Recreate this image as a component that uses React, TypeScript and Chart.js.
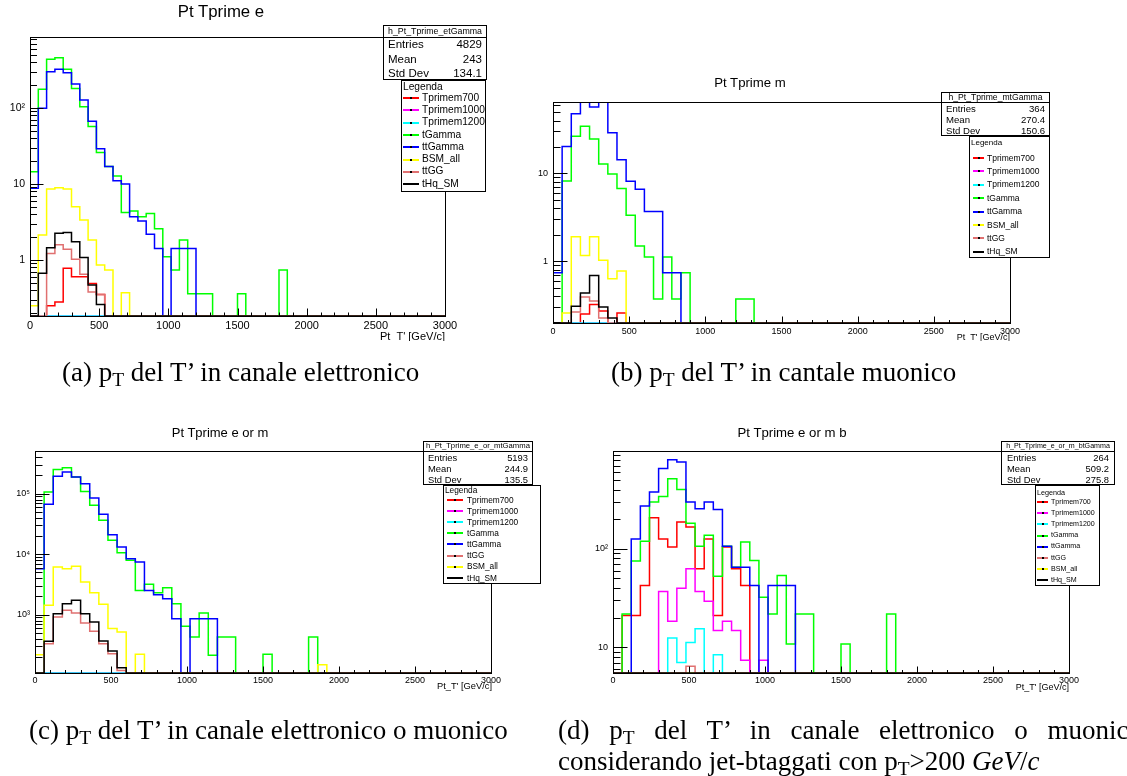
import React, { useEffect, useRef } from "react";
import { Chart, registerables } from "chart.js";

Chart.register(...registerables);

/* ====================== DATA ====================== */
// histograms: 50 bins of 60 GeV from 0 to 3000; bins after the last listed value are empty
const BIN_WIDTH = 60;
const N_BINS = 50;
const X_TICK_VALUES = [0, 500, 1000, 1500, 2000, 2500, 3000];

const SERIES_NAMES = ["Tprimem700", "Tprimem1000", "Tprimem1200", "tGamma", "ttGamma", "BSM_all", "ttGG", "tHq_SM"];
const LEGEND_ORDER_AB = ["Tprimem700", "Tprimem1000", "Tprimem1200", "tGamma", "ttGamma", "BSM_all", "ttGG", "tHq_SM"];
const LEGEND_ORDER_CD = ["Tprimem700", "Tprimem1000", "Tprimem1200", "tGamma", "ttGamma", "ttGG", "BSM_all", "tHq_SM"];
const STAT_LABELS = ["Entries", "Mean", "Std Dev"];
const X_AXIS_TITLE = "Pt_T' [GeV/c]";

// (a) electron channel
const A_TITLE = "Pt Tprime e";
const A_HIST_NAME = "h_Pt_Tprime_etGamma";
const A_STATS = ["4829", "243", "134.1"];
const A_Y_RANGE = [0.183, 860];
const A_Y_TICKS = [1, 10, 100];
const A_Y_LABELS = ["1", "10", "10²"];
const A_TPRIME700 = [0, 0, 0.25, 0.28, 0.78, 0.6, 0.6, 0.49, 0.35];
const A_TPRIME1000: number[] = [];
const A_TPRIME1200: number[] = [];
const A_TGAMMA = [14.5, 176, 437, 459, 323, 181, 104, 57, 26, 17, 12.7, 4.2, 4.4, 3.7, 4.1, 2.58, 1.1, 0.74, 1.83, 0.36, 0.36, 0.36, 0, 0, 0, 0.36, 0, 0, 0, 0, 0.74];
const A_TTGAMMA = [8.8, 99, 300, 323, 292, 207, 127, 67, 29, 17, 11, 10, 3.7, 3.26, 2.18, 1.42, 0, 1.42, 1.42, 1.42];
const A_BSM = [0.25, 2.13, 8.6, 8.95, 8.6, 5.0, 3.36, 1.83, 0.86, 0.74, 0, 0.37];
const A_TTGG = [0, 0, 1.22, 1.58, 1.38, 1.02, 0.65, 0.38, 0.35];
const A_THQ = [0, 0.67, 1.45, 2.24, 2.3, 1.74, 1.08, 0.47, 0.26];

// (b) muon channel
const B_TITLE = "Pt Tprime m";
const B_HIST_NAME = "h_Pt_Tprime_mtGamma";
const B_STATS = ["364", "270.4", "150.6"];
const B_Y_RANGE = [0.197, 65];
const B_Y_TICKS = [1, 10];
const B_Y_LABELS = ["1", "10"];
const B_TPRIME700 = [0, 0, 0, 0.25, 0.32, 0.27, 0, 0.256];
const B_TPRIME1000: number[] = [];
const B_TPRIME1200: number[] = [];
const B_TGAMMA = [0, 8.2, 26.5, 34.5, 24.7, 12.8, 9.8, 6.7, 3.33, 1.49, 1.11, 0.37, 1.11, 0.37, 0.735, 0, 0, 0, 0, 0, 0.37, 0.37];
const B_TTGAMMA = [0.735, 20.2, 47.8, 65, 57, 65, 29, 14.3, 8.1, 6.6, 3.67, 3.67, 0.735, 0.735];
const B_BSM = [0, 0.256, 1.9, 1.16, 1.9, 1.02, 0.63, 0.77];
const B_TTGG = [0, 0, 0.263, 0.39, 0.35, 0.224];
const B_THQ = [0, 0, 0.305, 0.434, 0.685, 0.3, 0.224];

// (c) electron or muon channel
const C_TITLE = "Pt Tprime e or m";
const C_HIST_NAME = "h_Pt_Tprime_e_or_mtGamma";
const C_STATS = ["5193", "244.9", "135.5"];
const C_Y_RANGE = [108.6, 507000];
const C_Y_TICKS = [1000, 10000, 100000];
const C_Y_LABELS = ["10³", "10⁴", "10⁵"];
const C_TPRIME700: number[] = [];
const C_TPRIME1000: number[] = [];
const C_TPRIME1200: number[] = [];
const C_TGAMMA = [0, 107000, 250000, 269000, 188000, 109000, 64100, 36200, 16900, 10600, 7910, 2520, 3170, 2310, 2790, 1520, 641, 427, 1070, 213, 427, 427, 0, 0, 0, 221, 0, 0, 0, 0, 427];
const C_TTGAMMA = [5750, 66700, 194000, 228000, 188000, 146000, 84700, 45500, 21000, 13100, 8430, 7420, 2520, 2140, 1840, 859, 0, 859, 859, 859];
const C_BSM = [218, 1430, 6140, 5750, 6300, 3470, 2310, 1480, 588, 517, 0, 221, 0, 0, 0, 0, 0, 0, 0, 0, 0, 0, 0, 0, 0, 0, 0, 0, 0, 0, 0, 149];
const C_TTGG = [0, 332, 915, 1180, 1070, 728, 530, 332, 226, 120];
const C_THQ = [0, 362, 1040, 1520, 1730, 1040, 756, 367, 251, 133];

// (d) electron or muon channel, b-tagged jets with pT > 200 GeV/c
const D_TITLE = "Pt Tprime e or m b";
const D_HIST_NAME = "h_Pt_Tprime_e_or_m_btGamma";
const D_STATS = ["264", "509.2", "275.8"];
const D_Y_RANGE = [5.48, 984];
const D_Y_TICKS = [10, 100];
const D_Y_LABELS = ["10", "10²"];
const D_TPRIME700 = [0, 21, 21, 42.4, 207, 126, 104, 187, 166, 62.7, 126, 21, 104, 62.7, 42.4];
const D_TPRIME1000 = [0, 0, 0, 0, 0, 36.8, 18.4, 39.8, 62.7, 36.8, 29.4, 14.8, 18.4, 14.8, 7.4, 0, 7.4];
const D_TPRIME1200 = [0, 0, 0, 0, 0, 0, 12.4, 7.0, 11.2, 15.4, 0, 8.4];
const D_TGAMMA = [0, 21.8, 75, 119, 298, 340, 515, 401, 182, 106, 137, 52.7, 106, 65, 117, 76, 32.2, 21.8, 53.6, 10.8, 21.8, 21.8, 0, 0, 0, 10.8, 0, 0, 0, 0, 21.8];
const D_TTGAMMA = [0, 0, 126, 272, 377, 652, 804, 761, 298, 255, 298, 251, 106, 65, 65, 42.4, 0, 42.4, 42.4, 42.4];
const D_BSM: number[] = [];
const D_TTGG = [0, 0, 0, 0, 0, 0, 0, 0, 6.4];
const D_THQ: number[] = [];

/* ====================== STYLE ====================== */
const SANS = "'Liberation Sans', Arial, Helvetica, sans-serif";
const SERIF = "'Liberation Serif', 'Times New Roman', serif";
const PAGE_W = 1127;
const PAGE_H = 776;
const Y_AXIS_W = 28;
const X_AXIS_H = 20;
const SERIES_COLORS: Record<string, string> = {
  Tprimem700: "#ff0000",
  Tprimem1000: "#ff00ff",
  Tprimem1200: "#00ffff",
  tGamma: "#00ff00",
  ttGamma: "#0000ff",
  BSM_all: "#ffff00",
  ttGG: "#e07070",
  tHq_SM: "#000000",
};

type Layout = {
  frame: { L: number; T: number; R: number; B: number };
  clipH: number;
  xFont: number; yFont: number; xPad: number; yPad: number;
  ticks: { xMajor: number; xMinor: number; yMajor: number; yMinor: number };
  title: { cx: number; cy: number; size: number };
  stat: { x: number; y: number; w: number; h: number; headerH: number; headerSize: number; rowSize: number; rows: number[]; pad: number };
  legend: { x: number; y: number; w: number; h: number; headerCy: number; headerSize: number; first: number; rowH: number; font: number; markerX: number; markerW: number; textX: number };
  axisTitle: { right: number; cy: number; size: number };
};

const LAYOUT_A: Layout = {
  frame: { L: 30, T: 37, R: 445, B: 316 },
  clipH: 341,
  xFont: 11, yFont: 10.5, xPad: 3, yPad: 5,
  ticks: { xMajor: 8, xMinor: 4, yMajor: 13, yMinor: 6.5 },
  title: { cx: 221, cy: 12.5, size: 16.8 },
  stat: { x: 383, y: 25, w: 104, h: 55, headerH: 12, headerSize: 8.8, rowSize: 11.5, rows: [45, 60, 74], pad: 5 },
  legend: { x: 401, y: 80, w: 85, h: 112, headerCy: 87, headerSize: 10.2, first: 98, rowH: 12.3, font: 10.2, markerX: 403, markerW: 16, textX: 422 },
  axisTitle: { right: 445, cy: 337, size: 11 },
};
const LAYOUT_B: Layout = {
  frame: { L: 553, T: 102, R: 1010, B: 323 },
  clipH: 341,
  xFont: 9, yFont: 9, xPad: 3, yPad: 5,
  ticks: { xMajor: 7, xMinor: 3.5, yMajor: 14, yMinor: 7 },
  title: { cx: 750, cy: 83, size: 13.2 },
  stat: { x: 941, y: 92, w: 109, h: 44, headerH: 9.5, headerSize: 8.6, rowSize: 9.6, rows: [109, 120, 131], pad: 5 },
  legend: { x: 969, y: 136, w: 81, h: 122, headerCy: 143, headerSize: 8, first: 158, rowH: 13.4, font: 8.5, markerX: 973, markerW: 11, textX: 987 },
  axisTitle: { right: 1010, cy: 337, size: 9 },
};
const LAYOUT_C: Layout = {
  frame: { L: 35, T: 451, R: 491, B: 673 },
  clipH: 776,
  xFont: 9, yFont: 9, xPad: 2, yPad: 5,
  ticks: { xMajor: 7, xMinor: 3.5, yMajor: 14, yMinor: 7 },
  title: { cx: 220, cy: 433, size: 13 },
  stat: { x: 423, y: 441, w: 110, h: 44, headerH: 9.5, headerSize: 7.7, rowSize: 9.4, rows: [458, 469, 480], pad: 5 },
  legend: { x: 443, y: 485, w: 98, h: 99, headerCy: 490, headerSize: 8.3, first: 500, rowH: 11.1, font: 8.3, markerX: 447, markerW: 16, textX: 467 },
  axisTitle: { right: 492, cy: 687, size: 9.3 },
};
const LAYOUT_D: Layout = {
  frame: { L: 613, T: 451, R: 1069, B: 673 },
  clipH: 776,
  xFont: 9, yFont: 9, xPad: 2, yPad: 5,
  ticks: { xMajor: 7, xMinor: 3.5, yMajor: 14, yMinor: 7 },
  title: { cx: 792, cy: 433, size: 13.2 },
  stat: { x: 1001, y: 441, w: 114, h: 44, headerH: 9.5, headerSize: 7.1, rowSize: 9.4, rows: [458, 469, 480], pad: 6 },
  legend: { x: 1035, y: 485, w: 65, h: 101, headerCy: 492, headerSize: 7.2, first: 502, rowH: 11.2, font: 7.1, markerX: 1037, markerW: 11, textX: 1051 },
  axisTitle: { right: 1069, cy: 687, size: 9 },
};

type Panel = {
  title: string; histName: string; stats: string[];
  yRange: number[]; yTicks: number[]; yLabels: string[];
  series: Record<string, number[]>; legendOrder: string[]; layout: Layout;
};

const PANELS: Panel[] = [
  {
    title: A_TITLE, histName: A_HIST_NAME, stats: A_STATS, yRange: A_Y_RANGE, yTicks: A_Y_TICKS, yLabels: A_Y_LABELS,
    series: { Tprimem700: A_TPRIME700, Tprimem1000: A_TPRIME1000, Tprimem1200: A_TPRIME1200, tGamma: A_TGAMMA, ttGamma: A_TTGAMMA, BSM_all: A_BSM, ttGG: A_TTGG, tHq_SM: A_THQ },
    legendOrder: LEGEND_ORDER_AB, layout: LAYOUT_A,
  },
  {
    title: B_TITLE, histName: B_HIST_NAME, stats: B_STATS, yRange: B_Y_RANGE, yTicks: B_Y_TICKS, yLabels: B_Y_LABELS,
    series: { Tprimem700: B_TPRIME700, Tprimem1000: B_TPRIME1000, Tprimem1200: B_TPRIME1200, tGamma: B_TGAMMA, ttGamma: B_TTGAMMA, BSM_all: B_BSM, ttGG: B_TTGG, tHq_SM: B_THQ },
    legendOrder: LEGEND_ORDER_AB, layout: LAYOUT_B,
  },
  {
    title: C_TITLE, histName: C_HIST_NAME, stats: C_STATS, yRange: C_Y_RANGE, yTicks: C_Y_TICKS, yLabels: C_Y_LABELS,
    series: { Tprimem700: C_TPRIME700, Tprimem1000: C_TPRIME1000, Tprimem1200: C_TPRIME1200, tGamma: C_TGAMMA, ttGamma: C_TTGAMMA, BSM_all: C_BSM, ttGG: C_TTGG, tHq_SM: C_THQ },
    legendOrder: LEGEND_ORDER_CD, layout: LAYOUT_C,
  },
  {
    title: D_TITLE, histName: D_HIST_NAME, stats: D_STATS, yRange: D_Y_RANGE, yTicks: D_Y_TICKS, yLabels: D_Y_LABELS,
    series: { Tprimem700: D_TPRIME700, Tprimem1000: D_TPRIME1000, Tprimem1200: D_TPRIME1200, tGamma: D_TGAMMA, ttGamma: D_TTGAMMA, BSM_all: D_BSM, ttGG: D_TTGG, tHq_SM: D_THQ },
    legendOrder: LEGEND_ORDER_CD, layout: LAYOUT_D,
  },
];

/* ====================== CHART ====================== */
// step histogram table: one point per left bin edge, plus closing edge; empty bins sit on the axis floor
function histPoints(values: number[], yMin: number) {
  const pts: { x: number; y: number }[] = [];
  for (let i = 0; i < N_BINS; i++) {
    const v = i < values.length ? values[i] : 0;
    pts.push({ x: i * BIN_WIDTH, y: v > yMin ? v : yMin });
  }
  pts.push({ x: N_BINS * BIN_WIDTH, y: pts[pts.length - 1].y });
  return pts;
}

const rootFramePlugin = {
  id: "rootFrame",
  afterDatasetsDraw(chart: any, _args: any, opts: any) {
    const { ctx, chartArea: a, scales } = chart;
    const xs = scales.x;
    const ys = scales.y;
    ctx.save();
    ctx.strokeStyle = "#000";
    ctx.lineWidth = 1;
    ctx.strokeRect(Math.round(a.left) + 0.5, Math.round(a.top) + 0.5, Math.round(a.right - a.left), Math.round(a.bottom - a.top));
    ctx.beginPath();
    const bottom = Math.round(a.bottom) + 0.5;
    for (let v = xs.min; v <= xs.max; v += 100) {
      const px = Math.round(xs.getPixelForValue(v)) + 0.5;
      const len = v % 500 === 0 ? opts.xMajor : opts.xMinor;
      ctx.moveTo(px, bottom);
      ctx.lineTo(px, bottom - len);
    }
    const lo = Math.floor(Math.log10(ys.min));
    const hi = Math.ceil(Math.log10(ys.max));
    const left = Math.round(a.left) + 0.5;
    for (let d = lo; d <= hi; d++) {
      for (let k = 1; k <= 9; k++) {
        const v = k * Math.pow(10, d);
        if (v < ys.min || v > ys.max) continue;
        const py = Math.round(ys.getPixelForValue(v)) + 0.5;
        const len = k === 1 ? opts.yMajor : opts.yMinor;
        ctx.moveTo(left, py);
        ctx.lineTo(left + len, py);
      }
    }
    ctx.stroke();
    ctx.restore();
  },
};

function HistCanvas({ panel }: { panel: Panel }) {
  const ref = useRef<HTMLCanvasElement | null>(null);
  useEffect(() => {
    const p = panel;
    const lay = p.layout;
    const [yMin, yMax] = p.yRange;
    const datasets = SERIES_NAMES.map((name, i) => ({
      label: name,
      data: histPoints(p.series[name] || [], yMin),
      borderColor: SERIES_COLORS[name],
      backgroundColor: SERIES_COLORS[name],
      borderWidth: 1.5,
      stepped: true,
      pointRadius: 0,
      fill: false,
      order: SERIES_NAMES.length - i,
    }));
    const labelMap = new Map<number, string>();
    p.yTicks.forEach((v, i) => labelMap.set(v, p.yLabels[i]));
    const chart = new Chart(ref.current as HTMLCanvasElement, {
      type: "line",
      data: { datasets } as any,
      options: {
        responsive: false,
        animation: false,
        devicePixelRatio: 1,
        events: [],
        layout: {
          padding: {
            left: lay.frame.L - Y_AXIS_W,
            top: lay.frame.T,
            right: PAGE_W - lay.frame.R,
            bottom: PAGE_H - lay.frame.B - X_AXIS_H,
          },
        },
        plugins: {
          legend: { display: false },
          tooltip: { enabled: false },
          title: { display: false },
          rootFrame: lay.ticks,
        } as any,
        scales: {
          x: {
            type: "linear",
            min: 0,
            max: N_BINS * BIN_WIDTH,
            grid: { display: false, drawTicks: false },
            border: { display: false },
            afterFit: (s: any) => { s.height = X_AXIS_H; },
            afterBuildTicks: (s: any) => { s.ticks = X_TICK_VALUES.map((v) => ({ value: v })); },
            ticks: {
              autoSkip: false, maxRotation: 0, padding: lay.xPad, color: "#000",
              font: { family: SANS, size: lay.xFont },
              callback: (v: any) => String(v),
            },
          },
          y: {
            type: "logarithmic",
            min: yMin,
            max: yMax,
            grid: { display: false, drawTicks: false },
            border: { display: false },
            afterFit: (s: any) => { s.width = Y_AXIS_W; },
            afterBuildTicks: (s: any) => { s.ticks = p.yTicks.map((v) => ({ value: v })); },
            ticks: {
              autoSkip: false, padding: lay.yPad, color: "#000",
              font: { family: SANS, size: lay.yFont },
              callback: (v: any) => labelMap.get(Number(v)) ?? "",
            },
          },
        } as any,
      },
      plugins: [rootFramePlugin],
    });
    return () => chart.destroy();
  }, [panel]);
  return (
    <canvas
      ref={ref}
      width={PAGE_W}
      height={PAGE_H}
      style={{ position: "absolute", left: 0, top: 0, width: PAGE_W, height: PAGE_H }}
    />
  );
}

function StatBox({ panel }: { panel: Panel }) {
  const s = panel.layout.stat;
  const lh = s.rowSize * 1.2;
  return (
    <div style={{ position: "absolute", left: s.x, top: s.y, width: s.w, height: s.h, border: "1px solid #000", boxSizing: "border-box", background: "#fff", fontFamily: SANS, color: "#000" }}>
      <div style={{ position: "absolute", left: 0, right: 0, top: 0, height: s.headerH - 1, borderBottom: "1px solid #000", fontSize: s.headerSize, lineHeight: `${s.headerH - 1}px`, textAlign: "center", whiteSpace: "nowrap" }}>
        {panel.histName}
      </div>
      {STAT_LABELS.map((lab, i) => (
        <div key={lab} style={{ position: "absolute", left: s.pad - 1, right: s.pad - 1, top: s.rows[i] - s.y - 1 - lh / 2, height: lh, display: "flex", justifyContent: "space-between", fontSize: s.rowSize, lineHeight: `${lh}px`, whiteSpace: "nowrap" }}>
          <span>{lab}</span>
          <span>{panel.stats[i]}</span>
        </div>
      ))}
    </div>
  );
}

function LegendBox({ panel }: { panel: Panel }) {
  const l = panel.layout.legend;
  const lh = l.font * 1.25;
  return (
    <div style={{ position: "absolute", left: l.x, top: l.y, width: l.w, height: l.h, border: "1px solid #000", boxSizing: "border-box", background: "#fff", fontFamily: SANS, color: "#000" }}>
      <div style={{ position: "absolute", left: 1, top: l.headerCy - l.y - 1 - (l.headerSize * 1.25) / 2, fontSize: l.headerSize, lineHeight: `${l.headerSize * 1.25}px`, whiteSpace: "nowrap" }}>Legenda</div>
      {panel.legendOrder.map((name, i) => {
        const cy = l.first - l.y - 1 + i * l.rowH;
        return (
          <React.Fragment key={name}>
            <div style={{ position: "absolute", left: l.markerX - l.x - 1, top: cy - 1, width: l.markerW, height: 2, background: SERIES_COLORS[name] }} />
            <div style={{ position: "absolute", left: l.markerX - l.x - 1 + l.markerW / 2 - 1, top: cy - 1, width: 2, height: 2, background: "#000" }} />
            <div style={{ position: "absolute", left: l.textX - l.x - 1, top: cy - lh / 2, fontSize: l.font, lineHeight: `${lh}px`, whiteSpace: "nowrap" }}>{name}</div>
          </React.Fragment>
        );
      })}
    </div>
  );
}

function PanelView({ panel }: { panel: Panel }) {
  const lay = panel.layout;
  return (
    <div style={{ position: "absolute", left: 0, top: 0, width: PAGE_W, height: lay.clipH, overflow: "hidden" }}>
      <HistCanvas panel={panel} />
      <div style={{ position: "absolute", left: lay.title.cx - 200, width: 400, top: lay.title.cy - lay.title.size * 0.6, textAlign: "center", fontFamily: SANS, fontSize: lay.title.size, lineHeight: `${lay.title.size * 1.2}px`, color: "#000", whiteSpace: "nowrap" }}>
        {panel.title}
      </div>
      <div style={{ position: "absolute", left: lay.axisTitle.right - 200, width: 200, top: lay.axisTitle.cy - lay.axisTitle.size * 0.6, textAlign: "right", fontFamily: SANS, fontSize: lay.axisTitle.size, lineHeight: `${lay.axisTitle.size * 1.2}px`, color: "#000", whiteSpace: "nowrap" }}>
        {X_AXIS_TITLE}
      </div>
      <StatBox panel={panel} />
      <LegendBox panel={panel} />
    </div>
  );
}

/* ====================== CAPTIONS ====================== */
const CAPTION_FONT = 27;
const CAPTION_LH = 30;
const subT = { fontSize: "0.72em", verticalAlign: "-0.28em", lineHeight: 0 } as React.CSSProperties;
const capStyle = (left: number, cy: number): React.CSSProperties => ({
  position: "absolute", left, top: cy - CAPTION_LH / 2, fontFamily: SERIF, fontSize: CAPTION_FONT, lineHeight: `${CAPTION_LH}px`, color: "#000", whiteSpace: "nowrap",
});

function Captions() {
  return (
    <>
      <div style={capStyle(62, 372)}>(a) p<span style={subT}>T</span> del T’ in canale elettronico</div>
      <div style={capStyle(611, 372)}>(b) p<span style={subT}>T</span> del T’ in cantale muonico</div>
      <div style={capStyle(29, 730)}>(c) p<span style={subT}>T</span> del T’ in canale elettronico o muonico</div>
      <div style={{ ...capStyle(558, 730), width: 584, textAlign: "justify", textAlignLast: "justify", whiteSpace: "normal" } as React.CSSProperties}>
        (d) p<span style={subT}>T</span> del T’ in canale elettronico o muonico
      </div>
      <div style={capStyle(558, 761)}>
        considerando jet-btaggati con p<span style={subT}>T</span>&gt;200 <i>GeV</i>/<i>c</i>
      </div>
    </>
  );
}

export default function App() {
  return (
    <div style={{ position: "fixed", left: 0, top: 0, width: PAGE_W, height: PAGE_H, background: "#fff", overflow: "hidden" }}>
      {PANELS.map((p, i) => (
        <PanelView key={i} panel={p} />
      ))}
      <Captions />
    </div>
  );
}
